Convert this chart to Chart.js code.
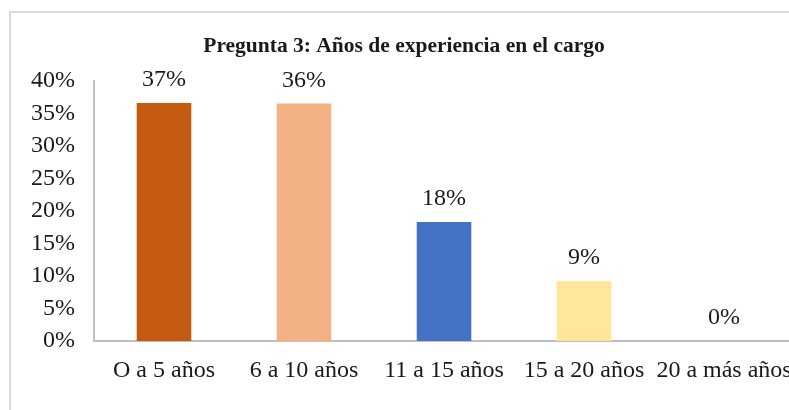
<!DOCTYPE html>
<html lang="es">
<head>
  <title>Pregunta 3</title>
  <meta charset="utf-8">
  <script src="https://cdn.jsdelivr.net/npm/chart.js"></script>
  <style>
    html, body { margin: 0; padding: 0; background: #fff; overflow: hidden; }
    .wrap { position: relative; width: 789px; height: 410px; overflow: hidden; }
    .frame { position: absolute; left: 9px; top: 11px; width: 1000px; height: 1000px; border: 2px solid #D9D9D9; box-sizing: border-box; }
    #chart { position: absolute; left: 0; top: 0; }
  </style>
</head>
<body>
<div class="wrap">
  <div class="frame"></div>
  <canvas id="chart" width="808" height="410"></canvas>
</div>
<script>
  const categories = ['O a 5 años', '6 a 10 años', '11 a 15 años', '15 a 20 años', '20 a más años'];
  const values = [36.6, 36.5, 18.3, 9.2, 0];
  const valueLabels = ['37%', '36%', '18%', '9%', '0%'];
  const barColors = ['#C55A11', '#F4B183', '#4472C4', '#FFE699', '#A9D18E'];

  const serif = '"Liberation Serif", "Times New Roman", serif';

  // etiquetas de valor encima de cada barra
  const valueLabelPlugin = {
    id: 'valueLabels',
    afterDatasetsDraw(chart) {
      const { ctx } = chart;
      const meta = chart.getDatasetMeta(0);
      ctx.save();
      ctx.font = '24px ' + serif;
      ctx.fillStyle = '#1a1a1a';
      ctx.textAlign = 'center';
      ctx.textBaseline = 'middle';
      meta.data.forEach((bar, i) => {
        ctx.fillText(valueLabels[i], bar.x, bar.y - 23);
      });
      ctx.restore();
    }
  };

  new Chart(document.getElementById('chart'), {
    type: 'bar',
    data: {
      labels: categories,
      datasets: [{
        data: values,
        backgroundColor: barColors,
        borderWidth: 0,
        categoryPercentage: 1,
        barPercentage: 0.39
      }]
    },
    options: {
      responsive: false,
      animation: false,
      layout: { padding: { left: 13, right: 13, bottom: 0 } },
      plugins: {
        legend: { display: false },
        tooltip: { enabled: false },
        title: {
          display: true,
          text: 'Pregunta 3: Años de experiencia en el cargo',
          color: '#1a1a1a',
          font: { family: serif, size: 21.5, weight: 'bold' },
          padding: { top: 34, bottom: 21 }
        }
      },
      scales: {
        y: {
          min: 0,
          max: 40,
          afterFit(scale) { scale.width = 81; },
          ticks: {
            stepSize: 5,
            padding: 19,
            color: '#1a1a1a',
            font: { family: serif, size: 24 },
            callback: (v) => v + '%'
          },
          grid: { display: false, drawTicks: false },
          border: { display: true, color: '#BFBFBF', width: 2 }
        },
        x: {
          afterFit(scale) { scale.height = 69; },
          ticks: {
            padding: 15,
            maxRotation: 0,
            autoSkip: false,
            color: '#1a1a1a',
            font: { family: serif, size: 24 }
          },
          grid: { display: false, drawTicks: false },
          border: { display: true, color: '#BFBFBF', width: 2 }
        }
      }
    },
    plugins: [valueLabelPlugin]
  });
</script>
</body>
</html>
